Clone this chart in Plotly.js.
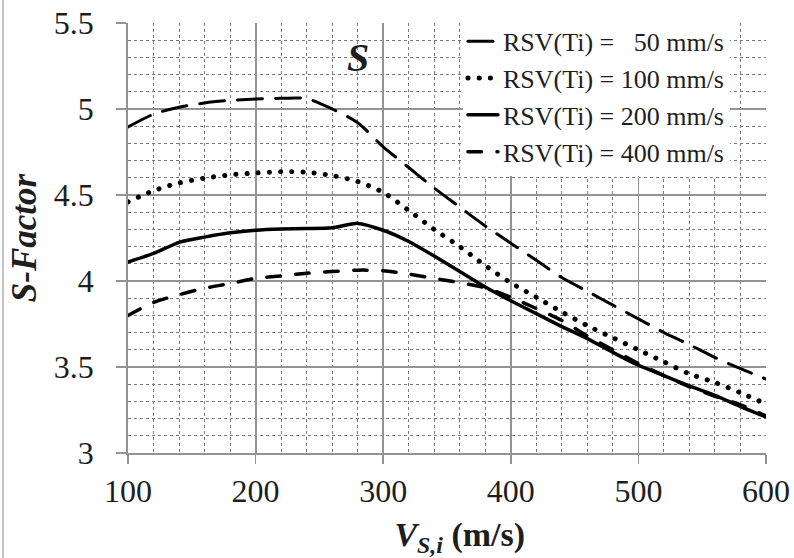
<!DOCTYPE html>
<html>
<head>
<meta charset="utf-8">
<script src="https://cdn.plot.ly/plotly-3.0.1.min.js"></script>
<style>
  html, body { margin: 0; padding: 0; background: #fff; }
  #wrap { position: relative; width: 794px; height: 558px; }
  #chart { width: 794px; height: 558px; }
  #edge { position: absolute; left: 2px; top: 0; width: 1.5px; height: 558px; background: #c4c4c4; }
  .scatterlayer .js-line, .legendlines path { stroke-linecap: round !important; }
</style>
</head>
<body>
<div id="wrap"><div id="chart"></div><div id="edge"></div></div>
<script>
// Shear-wave velocity V_S,i (m/s)
const vs = [100,120,140,160,180,200,220,240,260,280,300,320,340,360,380,400,420,440,460,480,500,520,540,560,580,600];

// S-Factor for each RSV(Ti)
const s50  = [4.895,4.97,5.01,5.035,5.05,5.058,5.062,5.06,5.00,4.92,4.78,4.66,4.54,4.43,4.32,4.22,4.12,4.02,3.94,3.86,3.78,3.70,3.63,3.555,3.49,3.43];
const s100 = [4.46,4.525,4.57,4.598,4.617,4.628,4.635,4.632,4.613,4.578,4.515,4.41,4.30,4.20,4.09,3.99,3.905,3.82,3.74,3.67,3.60,3.53,3.46,3.41,3.35,3.285];
const s200 = [4.11,4.16,4.225,4.255,4.28,4.295,4.302,4.305,4.31,4.335,4.295,4.23,4.145,4.055,3.965,3.885,3.81,3.735,3.665,3.585,3.51,3.45,3.39,3.335,3.27,3.21];
const s400 = [3.80,3.875,3.92,3.958,3.985,4.015,4.03,4.045,4.055,4.063,4.06,4.04,4.015,3.99,3.96,3.905,3.84,3.77,3.68,3.60,3.52,3.45,3.385,3.33,3.28,3.215];

const seriesNames = ["RSV(Ti) = \u00a0\u00a050 mm/s", "RSV(Ti) = 100 mm/s", "RSV(Ti) = 200 mm/s", "RSV(Ti) = 400 mm/s"];
const xTickVals = [100,200,300,400,500,600];
const yTickVals = [3,3.5,4,4.5,5,5.5];
const yTickText = ["3","3.5","4","4.5","5","5.5"];

const FONT = "'Liberation Serif', 'Times New Roman', Times, serif";
const INK = "#1e1e1e";
const PAD = "\u00a0\u00a0";

const traces = [
  {x: vs, y: s50,  name: seriesNames[0], mode: "lines", line: {color: "#000", width: 3,   dash: "25px,13px", shape: "spline", smoothing: 0.8}},
  {x: vs, y: s100, name: seriesNames[1], mode: "lines", line: {color: "#000", width: 5,   dash: "0.1px,11.1px", shape: "spline", smoothing: 0.8}},
  {x: vs, y: s200, name: seriesNames[2], mode: "lines", line: {color: "#000", width: 3.5, shape: "spline", smoothing: 0.6}},
  {x: vs, y: s400, name: seriesNames[3], mode: "lines", line: {color: "#000", width: 3.5, dash: "13.5px,15.5px", shape: "spline", smoothing: 0.8}}
];

const layout = {
  width: 794, height: 558,
  margin: {l: 128, r: 28, t: 23, b: 105},
  paper_bgcolor: "#fff", plot_bgcolor: "#fff",
  font: {family: FONT, color: INK},
  showlegend: true,
  legend: {
    x: 0.525, xanchor: "left", y: 1.012, yanchor: "top",
    bgcolor: "#fff", borderwidth: 0,
    font: {family: FONT, size: 26, color: INK},
    tracegroupgap: 0
  },
  xaxis: {
    range: [100, 600], tickvals: xTickVals, ticktext: xTickVals.map(String),
    showgrid: true, gridcolor: "#939393", gridwidth: 1.8,
    minor: {dtick: 20, tick0: 100, showgrid: true, gridcolor: "#7a7a7a", gridwidth: 1, griddash: "dot"},
    ticks: "outside", ticklen: 9, tickwidth: 1.5, tickcolor: "#939393",
    showline: true, linecolor: "#939393", linewidth: 2, zeroline: false,
    tickfont: {family: FONT, size: 32, color: INK},
    title: {text: "<b>\u00a0\u00a0\u00a0<i>V</i><sub><i>S,i</i></sub> (m/s)</b>", font: {family: FONT, size: 34, color: INK}, standoff: 18}
  },
  yaxis: {
    range: [3, 5.5], tickvals: yTickVals, ticktext: yTickText.map(t => t + PAD),
    showgrid: true, gridcolor: "#939393", gridwidth: 1.8,
    minor: {dtick: 0.1, tick0: 3, showgrid: true, gridcolor: "#7a7a7a", gridwidth: 1, griddash: "dot"},
    ticks: "outside", ticklen: 10, tickwidth: 1.5, tickcolor: "#939393",
    showline: true, linecolor: "#939393", linewidth: 1.8, zeroline: false,
    tickfont: {family: FONT, size: 32, color: INK},
    title: {text: "<b><i>S-Factor</i></b>", font: {family: FONT, size: 35, color: INK}, standoff: 6}
  },
  annotations: [{
    x: 280, y: 5.30, xref: "x", yref: "y", text: "<b><i>S</i></b>", showarrow: false,
    font: {family: FONT, size: 40, color: INK}
  }]
};

Plotly.newPlot("chart", traces, layout, {staticPlot: true, displayModeBar: false});
</script>
</body>
</html>
